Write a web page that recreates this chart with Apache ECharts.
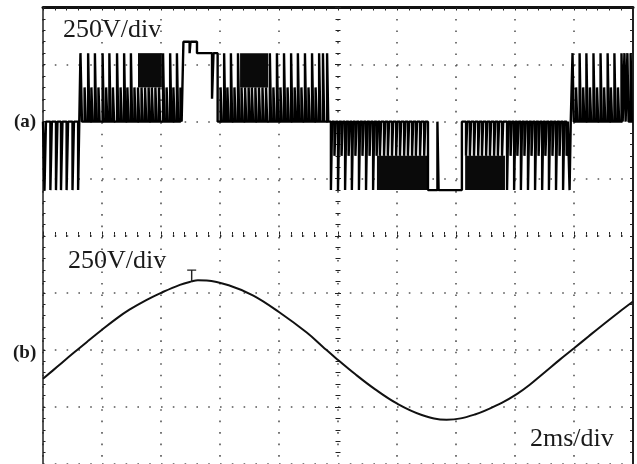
<!DOCTYPE html>
<html>
<head>
<meta charset="utf-8">
<script src="https://cdn.jsdelivr.net/npm/echarts@6/dist/echarts.min.js"></script>
<style>
  html, body { margin: 0; padding: 0; background: #fff; }
  #scope { width: 637px; height: 464px; }
</style>
</head>
<body>
<div id="scope"></div>
<script>
// trace (a): switching instants [ms, level in V after the switch]
const pwmEdgesA = [
  [0, 0],
  [0.05, -300], [0.10, 0], [0.25, -300], [0.30, 0], [0.44, -300], [0.49, 0],
  [0.61, -300], [0.66, 0], [0.80, -300], [0.85, 0], [1.00, -300], [1.05, 0],
  [1.19, -300], [1.23, 0],
  [1.27, 300], [1.32, 0], [1.41, 150], [1.45, 0], [1.53, 300], [1.57, 0],
  [1.64, 150], [1.68, 0], [1.76, 300], [1.80, 0], [1.88, 150], [1.92, 0],
  [2.02, 300], [2.06, 0], [2.14, 150], [2.18, 0], [2.25, 300], [2.29, 0],
  [2.37, 150], [2.41, 0], [2.51, 300], [2.55, 0], [2.63, 150], [2.67, 0],
  [2.75, 300], [2.79, 0], [2.86, 150], [2.90, 0], [2.98, 300], [3.02, 0],
  [3.10, 150], [3.14, 0], [3.22, 150], [3.26, 0], [3.34, 150], [3.38, 0],
  [3.46, 150], [3.50, 0], [3.58, 150], [3.62, 0], [3.69, 150], [3.73, 0],
  [3.81, 150], [3.85, 0], [3.93, 150], [3.97, 0], [4.07, 300], [4.11, 0],
  [4.19, 150], [4.23, 0], [4.31, 300], [4.35, 0], [4.42, 150], [4.46, 0],
  [4.54, 300], [4.58, 0], [4.66, 150], [4.70, 0],
  [4.76, 350], [4.97, 300], [5.00, 350], [5.22, 300], [5.73, 100], [5.78, 300], [5.92, 0]
]
const pwmEdgesB = [
  [6.02, 150], [6.06, 0], [6.14, 300], [6.18, 0], [6.25, 150], [6.29, 0],
  [6.37, 300], [6.41, 0], [6.49, 150], [6.53, 0], [6.61, 300], [6.65, 0],
  [6.73, 150], [6.77, 0], [6.85, 150], [6.89, 0], [6.97, 150], [7.01, 0],
  [7.08, 150], [7.12, 0], [7.20, 150], [7.24, 0], [7.32, 150], [7.36, 0],
  [7.44, 150], [7.48, 0], [7.56, 150], [7.60, 0],
  [7.69, 300], [7.73, 0], [7.81, 150], [7.85, 0], [7.93, 300], [7.97, 0],
  [8.05, 150], [8.09, 0], [8.17, 300], [8.21, 0], [8.29, 150], [8.33, 0],
  [8.41, 300], [8.45, 0], [8.53, 150], [8.57, 0], [8.64, 300], [8.68, 0],
  [8.76, 150], [8.80, 0], [8.88, 300], [8.92, 0], [9.00, 150], [9.04, 0],
  [9.12, 300], [9.16, 0], [9.24, 150], [9.28, 0], [9.36, 300], [9.40, 0],
  [9.49, 300], [9.53, 0], [9.63, 300], [9.67, 0]
]
const pwmEdgesC = [
  [9.76, -300], [9.80, 0], [9.88, -150], [9.92, 0], [10.00, -300], [10.04, 0],
  [10.12, -150], [10.16, 0], [10.24, -300], [10.28, 0], [10.36, -150], [10.40, 0],
  [10.47, -300], [10.51, 0], [10.59, -150], [10.63, 0], [10.71, -300], [10.75, 0],
  [10.83, -150], [10.87, 0], [10.95, -300], [10.99, 0], [11.07, -150], [11.11, 0],
  [11.19, -300], [11.23, 0], [11.31, -150], [11.35, 0],
  [11.42, -150], [11.46, 0], [11.56, -150], [11.60, 0], [11.69, -150], [11.73, 0],
  [11.83, -150], [11.87, 0], [11.97, -150], [12.01, 0], [12.10, -150], [12.14, 0],
  [12.24, -150], [12.28, 0], [12.37, -150], [12.41, 0], [12.51, -150], [12.55, 0],
  [12.64, -150], [12.68, 0], [12.78, -150], [12.82, 0], [12.92, -150], [12.96, 0],
  [13.05, -300], [13.37, 0], [13.41, -300], [14.20, 0]
]
const pwmEdgesD = [
  [14.34, -150], [14.38, 0], [14.47, -150], [14.51, 0], [14.61, -150], [14.65, 0],
  [14.75, -150], [14.79, 0], [14.88, -150], [14.92, 0], [15.02, -150], [15.06, 0],
  [15.15, -150], [15.19, 0], [15.29, -150], [15.33, 0], [15.42, -150], [15.46, 0],
  [15.56, -150], [15.60, 0],
  [15.73, -300], [15.77, 0], [15.85, -150], [15.89, 0], [15.97, -300], [16.01, 0],
  [16.08, -150], [16.12, 0], [16.20, -300], [16.24, 0], [16.32, -150], [16.36, 0],
  [16.44, -300], [16.48, 0], [16.56, -150], [16.60, 0], [16.68, -300], [16.72, 0],
  [16.80, -150], [16.84, 0], [16.92, -300], [16.96, 0], [17.03, -150], [17.07, 0],
  [17.15, -300], [17.19, 0], [17.27, -150], [17.31, 0], [17.39, -300], [17.43, 0],
  [17.51, -150], [17.55, 0], [17.63, -300], [17.67, 0], [17.75, -150], [17.79, 0],
  [17.85, -300], [17.89, 0],
  [17.95, 300], [17.99, 0], [18.07, 150], [18.11, 0], [18.19, 300], [18.23, 0],
  [18.31, 150], [18.35, 0], [18.42, 300], [18.46, 0], [18.54, 150], [18.58, 0],
  [18.66, 300], [18.70, 0], [18.78, 150], [18.82, 0], [18.90, 300], [18.94, 0],
  [19.02, 150], [19.06, 0], [19.14, 300], [19.18, 0], [19.25, 150], [19.29, 0],
  [19.37, 300], [19.41, 0], [19.49, 150], [19.53, 0], [19.61, 300], [19.65, 0],
  [19.71, 300], [19.75, 0], [19.81, 300], [19.85, 0], [19.92, 300], [19.96, 0],
  [20, 0]
]
// bands where the switching is too dense to resolve: [from ms, to ms, low V, high V]
const denseBands = [
  [3.22, 4.03, 150, 300],
  [6.68, 7.63, 150, 300],
  [11.32, 13.05, -300, -150],
  [14.31, 15.66, -300, -150]
]

// trace (b): filtered output voltage
const sineMs = [0, 0.5, 1.03, 1.5, 2.0, 2.5, 2.93, 3.5, 4.02, 4.64, 5.04, 5.25, 5.55, 6.34, 7.13,
  8.01, 8.94, 9.5, 9.9, 10.58, 11.25, 12.01, 12.84, 13.68, 14.64, 15.55, 16.06, 16.5,
  17.02, 17.5, 18.01, 18.5, 18.94, 19.5, 20]
const sineV = [-127, -72, -14, 36, 88, 138, 176, 218, 251, 285, 300, 305, 304, 281, 238,
  165, 76, 12, -33, -106, -172, -236, -285, -306, -283, -232, -194, -153,
  -97, -45, 8, 60, 106, 163, 212]

const scaleTexts = ['250V/div', '250V/div', '2ms/div']
const traceNames = ['(a)', '(b)']

const chart = echarts.init(document.getElementById('scope'))

const dark = '#222'
const dotColor = '#555'
const serif = '"Liberation Serif", "DejaVu Serif", serif'

function centreAxis (inside, extra) {
  return Object.assign({
    type: 'value',
    axisTick: { show: true, inside: inside, length: 3, lineStyle: { color: dark } },
    minorTick: { show: true, splitNumber: 5, length: 2.5, lineStyle: { color: dark } },
    axisLabel: { show: false },
    splitLine: { show: false }
  }, extra)
}
function label (text, x, y, size, bold) {
  return {
    type: 'text',
    x: x,
    y: y,
    style: {
      text: text,
      font: (bold ? 'bold ' : '') + size + 'px ' + serif,
      fill: '#1a1a1a',
      align: 'left',
      textAlign: 'left',
      verticalAlign: 'middle',
      textVerticalAlign: 'middle'
    }
  }
}

const option = {
  animation: false,
  backgroundColor: '#fff',
  grid: { left: 43, top: 7.5, width: 590, height: 459, show: false },
  xAxis: [
    {
      type: 'value', min: 0, max: 20, interval: 2, position: 'top',
      axisLine: { show: true, onZero: false, lineStyle: { color: '#111', width: 3 } },
      axisTick: { show: true, inside: true, length: 3, lineStyle: { color: dark } },
      minorTick: { show: true, splitNumber: 5, length: 3, lineStyle: { color: dark } },
      axisLabel: { show: false },
      splitLine: { show: true, lineStyle: { color: dotColor, width: 1.6, type: [1.6, 9.875] } }
    },
    // centre horizontal line: ticks both sides, lifted from the bottom edge
    centreAxis(true, { min: 0, max: 20, interval: 2, position: 'bottom', offset: -229.5,
      axisLine: { show: false, onZero: false } }),
    centreAxis(false, { min: 0, max: 20, interval: 2, position: 'bottom', offset: -229.5,
      axisLine: { show: false, onZero: false } }),
    // helper with zero in the middle, for the centre vertical line
    { type: 'value', min: -10, max: 10, show: false, position: 'bottom',
      axisLine: { onZero: false } }
  ],
  yAxis: [
    {
      type: 'value', min: -1500, max: 500, interval: 250, position: 'left',
      axisLine: { show: true, onZero: false, lineStyle: { color: dark, width: 1.5 } },
      axisTick: { show: true, inside: true, length: 2.5, lineStyle: { color: dark } },
      minorTick: { show: true, splitNumber: 5, length: 2.5, lineStyle: { color: dark } },
      axisLabel: { show: false },
      splitLine: { show: true, lineStyle: { color: dotColor, width: 1.6, type: [1.6, 10.2] } }
    },
    {
      type: 'value', min: -500, max: 1500, interval: 250, position: 'right',
      axisLine: { show: true, onZero: false, lineStyle: { color: dark, width: 2 } },
      axisTick: { show: true, inside: true, length: 3, lineStyle: { color: dark } },
      minorTick: { show: true, splitNumber: 5, length: 3, lineStyle: { color: dark } },
      axisLabel: { show: false },
      splitLine: { show: false }
    },
    centreAxis(true, { min: -1000, max: 1000, interval: 250, position: 'left',
      axisLine: { show: false, onZero: true, onZeroAxisIndex: 3 } }),
    centreAxis(false, { min: -1000, max: 1000, interval: 250, position: 'left',
      axisLine: { show: false, onZero: true, onZeroAxisIndex: 3 } })
  ],
  graphic: [
    label(scaleTexts[0], 63, 30, 26, false),
    label(scaleTexts[1], 68, 261, 26, false),
    label(scaleTexts[2], 530, 439, 26, false),
    label(traceNames[0], 14, 122, 19, true),
    label(traceNames[1], 13, 353, 19, true)
  ],
  series: [
    {
      type: 'custom',
      xAxisIndex: 0,
      yAxisIndex: 0,
      silent: true,
      encode: { x: [0, 1], y: [2, 3] },
      data: denseBands,
      renderItem: (params, api) => {
        const p0 = api.coord([api.value(0), api.value(3)])
        const p1 = api.coord([api.value(1), api.value(2)])
        return {
          type: 'rect',
          shape: { x: p0[0], y: p0[1], width: p1[0] - p0[0], height: p1[1] - p0[1] },
          style: { fill: '#0a0a0a' }
        }
      }
    },
    {
      type: 'line',
      name: 'inverter output',
      xAxisIndex: 0,
      yAxisIndex: 0,
      step: 'end',
      symbol: 'none',
      silent: true,
      lineStyle: { color: '#000', width: 2.4 },
      data: pwmEdgesA.concat(pwmEdgesB, pwmEdgesC, pwmEdgesD)
    },
    {
      type: 'line',
      name: 'load voltage',
      xAxisIndex: 0,
      yAxisIndex: 1,
      smooth: 0.4,
      symbol: 'none',
      silent: true,
      lineStyle: { color: '#111', width: 2 },
      data: sineMs.map((t, i) => [t, sineV[i]]),
      markPoint: {
        silent: true,
        symbol: 'path://M0 0H10V1.6H5.8V14H4.2V1.6H0Z',
        symbolSize: [9, 12],
        symbolOffset: [0, -6],
        itemStyle: { color: dark },
        label: { show: false },
        data: [{ coord: [5.04, 300] }]
      }
    }
  ]
}
chart.setOption(option)
</script>
</body>
</html>
